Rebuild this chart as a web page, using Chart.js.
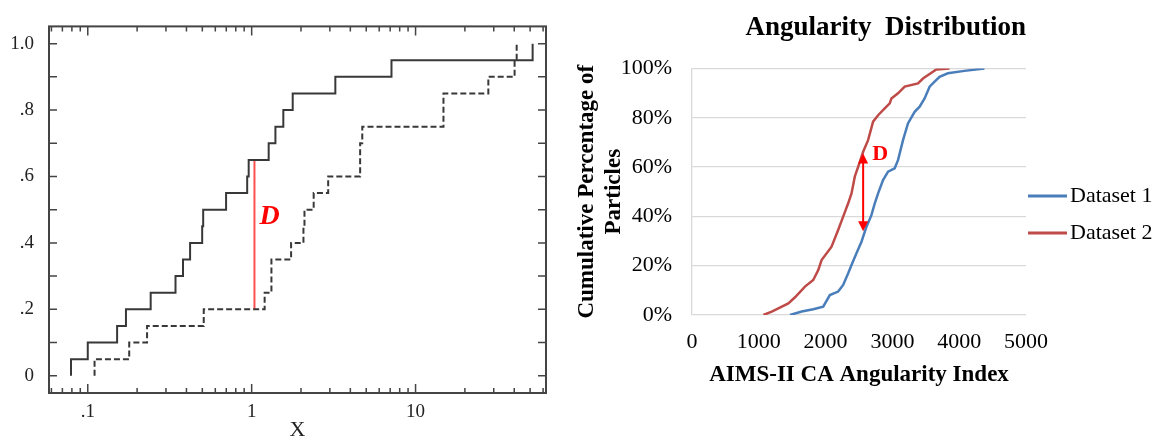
<!DOCTYPE html>
<html>
<head>
<meta charset="utf-8">
<script src="https://cdn.jsdelivr.net/npm/chart.js@4.4.0/dist/chart.umd.min.js"></script>
<style>
html, body { margin: 0; padding: 0; background: #fff; overflow: hidden; }
#wrap { position: relative; width: 1157px; height: 438px; }
#ksCanvas { position: absolute; left: 0; top: 0; }
#angCanvas { position: absolute; left: 560px; top: 0; }
</style>
</head>
<body>
<div id="wrap">
  <canvas id="ksCanvas" width="560" height="438" style="width:560px;height:438px"></canvas>
  <canvas id="angCanvas" width="597" height="438" style="width:597px;height:438px"></canvas>
</div>
<script>
// ---- left panel: two empirical CDFs (K-S test), log x ----
const ksLevels = [0, 0.05, 0.10, 0.15, 0.20, 0.25, 0.30, 0.35, 0.40, 0.45, 0.50,
                  0.55, 0.60, 0.65, 0.70, 0.75, 0.80, 0.85, 0.90, 0.95, 1.00];
const ksSample1 = [0.079, 0.100, 0.151, 0.171, 0.242, 0.343, 0.381, 0.421, 0.499, 0.506,
                   0.698, 0.939, 0.959, 1.27, 1.396, 1.56, 1.78, 3.24, 7.13, 51.8];
const ksSample2 = [0.110, 0.179, 0.230, 0.51, 1.20, 1.32, 1.32, 1.74, 2.07, 2.10,
                   2.39, 2.93, 4.59, 4.59, 4.73, 14.8, 14.8, 27.8, 40.2, 41.4];
const ksXTicks = [0.1, 1, 10];
const ksXLabels = ['.1', '1', '10'];
const ksYTicks = [0, 0.2, 0.4, 0.6, 0.8, 1.0];
const ksYLabels = ['0', '.2', '.4', '.6', '.8', '1.0'];
const ksGapX = 1.04;
const ksGap = [0.20, 0.65];

// ---- right panel: angularity distribution ----
const angSeries = ['Dataset 1', 'Dataset 2'];
const angX1 = [1467, 1642, 1815, 1964, 2064, 2188, 2263, 2338, 2388, 2462, 2537, 2612, 2686, 2736, 2786,
               2860, 2935, 3034, 3084, 3159, 3233, 3333, 3408, 3482, 3557, 3632, 3706, 3830, 4079, 4378];
const angY1 = [0, 1.4, 2.3, 3.4, 8.1, 9.5, 12.2, 16.9, 20.3, 25, 29.7, 35.8, 40.5, 45.3, 49.3,
               54.7, 58.1, 59.5, 62.8, 70.9, 77.7, 82.4, 84.5, 87.8, 92.6, 94.6, 96.6, 98, 99, 100];
const angX2 = [1069, 1194, 1293, 1442, 1542, 1691, 1815, 1890, 1940, 2089, 2188, 2263, 2338, 2388, 2437,
               2487, 2562, 2636, 2711, 2786, 2885, 2960, 2985, 3084, 3184, 3383, 3458, 3557, 3657, 3855];
const angY2 = [0, 1.4, 2.7, 4.7, 7.2, 11.5, 14.2, 18.2, 22.3, 27.7, 34.5, 39.9, 45.3, 49.3, 56.1,
               60.1, 66.2, 70.9, 78.4, 81, 83.8, 85.8, 87.8, 89.9, 92.6, 93.9, 95.9, 97.7, 99.6, 100];
const angXTicks = [0, 1000, 2000, 3000, 4000, 5000];
const angXLabels = ['0', '1000', '2000', '3000', '4000', '5000'];
const angYTicks = [0, 20, 40, 60, 80, 100];
const angGapX = 2562;
const angGap = [34, 65.5];

const serif = 'Liberation Serif';

function cdfPoints(sample) {
  const pts = [{x: sample[0], y: ksLevels[0]}];
  sample.forEach((v, i) => pts.push({x: v, y: ksLevels[i + 1]}));
  return pts;
}

// box with inward ticks on all four sides + the D label
const ksFrame = {
  id: 'ksFrame',
  afterDraw(chart) {
    const {ctx, chartArea: a, scales: {x, y}} = chart;
    ctx.save();
    ctx.strokeStyle = '#444';
    ctx.lineWidth = 2;
    ctx.strokeRect(a.left, a.top, a.right - a.left, a.bottom - a.top);
    ctx.lineWidth = 1.5;
    ctx.beginPath();
    for (let d = 0.01; d < 100; d *= 10) {
      for (let k = 1; k < 10; k++) {
        const v = k * d;
        if (v < x.min || v > x.max) continue;
        const p = x.getPixelForValue(v);
        const len = k === 1 ? 9 : 5;
        ctx.moveTo(p, a.bottom); ctx.lineTo(p, a.bottom - len);
        ctx.moveTo(p, a.top); ctx.lineTo(p, a.top + len);
      }
    }
    for (let i = 0; i <= 10; i++) {
      const p = y.getPixelForValue(i / 10);
      ctx.moveTo(a.left, p); ctx.lineTo(a.left + 8, p);
      ctx.moveTo(a.right, p); ctx.lineTo(a.right - 8, p);
    }
    ctx.stroke();
    ctx.fillStyle = '#ff0000';
    ctx.font = 'italic bold 28px "' + serif + '"';
    ctx.textBaseline = 'middle';
    ctx.textAlign = 'left';
    ctx.fillText('D', x.getPixelForValue(ksGapX) + 5, y.getPixelForValue(0.48));
    ctx.restore();
  }
};

new Chart(document.getElementById('ksCanvas'), {
  type: 'line',
  data: {
    datasets: [
      { data: cdfPoints(ksSample1), borderColor: '#383838', borderWidth: 2, stepped: 'before', pointRadius: 0 },
      { data: cdfPoints(ksSample2), borderColor: '#383838', borderWidth: 2, borderDash: [6, 3], stepped: 'before', pointRadius: 0 },
      { data: [{x: ksGapX, y: ksGap[0]}, {x: ksGapX, y: ksGap[1]}], borderColor: '#ff5050', borderWidth: 2, pointRadius: 0 }
    ]
  },
  options: {
    responsive: false,
    animation: false,
    layout: { padding: { top: 14, right: 14, left: 0, bottom: 0 } },
    plugins: { legend: { display: false }, tooltip: { enabled: false } },
    scales: {
      x: {
        type: 'logarithmic', min: 0.058, max: 62.5,
        afterBuildTicks: s => { s.ticks = ksXTicks.map(v => ({value: v})); },
        afterFit: s => { s.height = 45; },
        grid: { display: false, drawTicks: false },
        border: { display: false },
        ticks: {
          autoSkip: false, maxRotation: 0, padding: 8, color: '#222',
          font: { family: serif, size: 19 },
          callback: v => { const i = ksXTicks.indexOf(v); return i < 0 ? '' : ksXLabels[i]; }
        },
        title: { display: true, text: 'X', color: '#222', font: { family: serif, size: 22, lineHeight: 1 }, padding: { top: 0, bottom: -3 } }
      },
      y: {
        type: 'linear', min: -0.052, max: 1.052,
        afterBuildTicks: s => { s.ticks = ksYTicks.map(v => ({value: v})); },
        afterFit: s => { s.width = 49; },
        grid: { display: false, drawTicks: false },
        border: { display: false },
        ticks: {
          padding: 15, color: '#222',
          font: { family: serif, size: 19 },
          callback: v => { const i = ksYTicks.indexOf(v); return i < 0 ? '' : ksYLabels[i]; }
        }
      }
    }
  },
  plugins: [ksFrame]
});

// arrow, D and legend for the right panel
const angAnnot = {
  id: 'angAnnot',
  afterDatasetsDraw(chart) {
    const {ctx, chartArea: a, scales: {x, y}} = chart;
    const px = x.getPixelForValue(angGapX);
    const yTop = y.getPixelForValue(angGap[1]);
    const yBot = y.getPixelForValue(angGap[0]);
    ctx.save();
    ctx.strokeStyle = '#ff0000';
    ctx.fillStyle = '#ff0000';
    ctx.lineWidth = 2;
    ctx.beginPath();
    ctx.moveTo(px, yTop + 9); ctx.lineTo(px, yBot - 9);
    ctx.stroke();
    ctx.beginPath();
    ctx.moveTo(px, yTop); ctx.lineTo(px - 5, yTop + 10); ctx.lineTo(px + 5, yTop + 10);
    ctx.closePath(); ctx.fill();
    ctx.beginPath();
    ctx.moveTo(px, yBot); ctx.lineTo(px - 5, yBot - 10); ctx.lineTo(px + 5, yBot - 10);
    ctx.closePath(); ctx.fill();
    ctx.font = 'bold 22px "' + serif + '"';
    ctx.textBaseline = 'middle';
    ctx.textAlign = 'left';
    ctx.fillText('D', px + 9, yTop + 1);

    // legend
    ctx.font = '22px "' + serif + '"';
    chart.data.datasets.forEach((ds, i) => {
      const ly = 196 + i * 37;
      ctx.strokeStyle = ds.borderColor;
      ctx.lineWidth = 3;
      ctx.beginPath();
      ctx.moveTo(a.right + 2, ly); ctx.lineTo(a.right + 41, ly);
      ctx.stroke();
      ctx.fillStyle = '#000';
      ctx.fillText(ds.label, a.right + 44, ly);
    });
    ctx.restore();
  }
};

new Chart(document.getElementById('angCanvas'), {
  type: 'line',
  data: {
    datasets: [
      { label: angSeries[0], data: angX1.map((x, i) => ({x: x, y: angY1[i]})), borderColor: '#4a7ebb', borderWidth: 2.5, pointRadius: 0 },
      { label: angSeries[1], data: angX2.map((x, i) => ({x: x, y: angY2[i]})), borderColor: '#be4b48', borderWidth: 2.5, pointRadius: 0 }
    ]
  },
  options: {
    responsive: false,
    animation: false,
    layout: { padding: { top: 0, right: 131, left: 0, bottom: 0 } },
    plugins: {
      legend: { display: false },
      tooltip: { enabled: false },
      title: {
        display: true, text: 'Angularity  Distribution', align: 'end', color: '#000',
        font: { family: serif, size: 27, weight: 'bold', lineHeight: 1.2 },
        padding: { top: 12, bottom: 24 }
      }
    },
    scales: {
      x: {
        type: 'linear', min: 0, max: 5000,
        afterBuildTicks: s => { s.ticks = angXTicks.map(v => ({value: v})); },
        afterFit: s => { s.height = 123; },
        grid: { display: false, drawTicks: false },
        border: { display: false },
        ticks: {
          autoSkip: false, maxRotation: 0, padding: 14, color: '#000',
          font: { family: serif, size: 22 },
          callback: v => { const i = angXTicks.indexOf(v); return i < 0 ? '' : angXLabels[i]; }
        },
        title: {
          display: true, text: 'AIMS-II CA Angularity Index', color: '#000',
          font: { family: serif, size: 23, weight: 'bold', lineHeight: 1.2 },
          padding: { top: 0, bottom: 49 }
        }
      },
      y: {
        type: 'linear', min: 0, max: 100,
        afterBuildTicks: s => { s.ticks = angYTicks.map(v => ({value: v})); },
        afterFit: s => { s.width = 132; },
        grid: { color: '#d9d9d9', lineWidth: 1.3, drawTicks: false },
        border: { display: true, color: '#d9d9d9', width: 1.3 },
        ticks: {
          padding: 20, color: '#000',
          font: { family: serif, size: 22 },
          callback: v => v + '%'
        },
        title: {
          display: true, text: ['Cumulative Percentage of', 'Particles'], color: '#000',
          font: { family: serif, size: 23, weight: 'bold', lineHeight: 1.15 },
          padding: { top: 14, bottom: 0 }
        }
      }
    }
  },
  plugins: [angAnnot]
});
</script>
</body>
</html>
